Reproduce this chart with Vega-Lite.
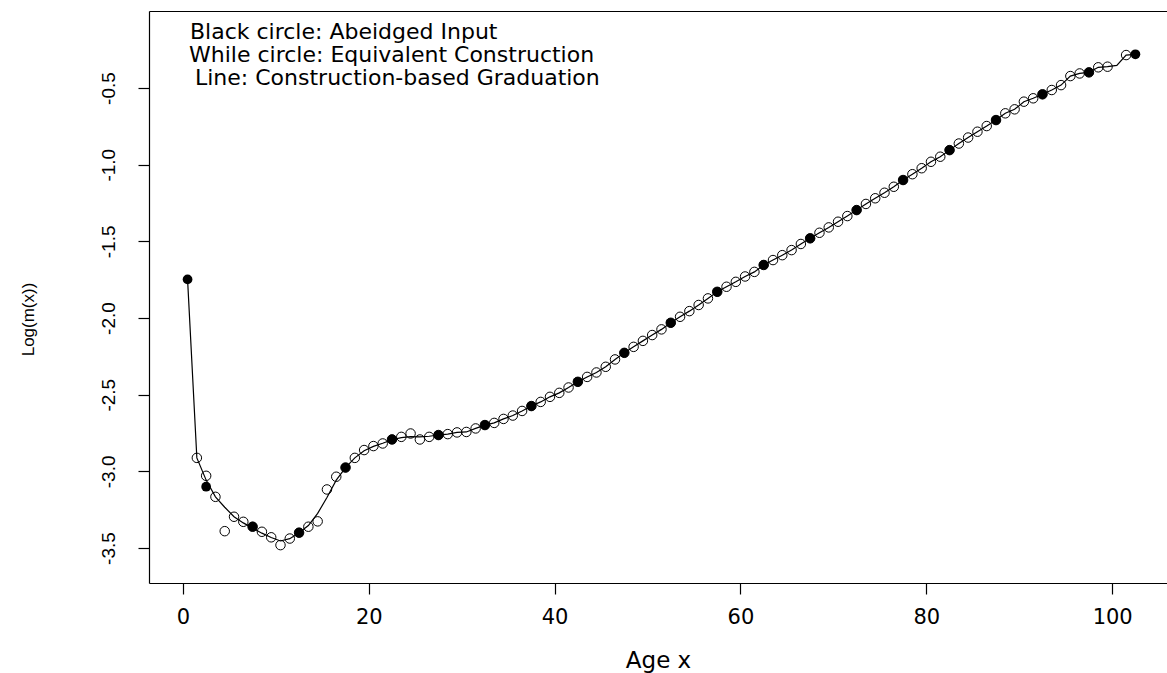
{
  "$schema": "https://vega.github.io/schema/vega-lite/v6.json",
  "width": 1018,
  "height": 572,
  "autosize": {"type": "none"},
  "padding": {"left": 149, "top": 11, "right": 0, "bottom": 90},
  "background": "white",
  "config": {
    "view": {"stroke": null},
    "axis": {"grid": false, "domainColor": "black", "tickColor": "black", "labelColor": "black", "titleColor": "black", "titleFontWeight": "normal", "domainWidth": 1.2, "tickWidth": 1.2}
  },
  "datasets": {
    "grad": [
      {"age": 0.5, "value": -1.748}, {"age": 1.5, "value": -2.912}, {"age": 2.5, "value": -3.057}, {"age": 3.5, "value": -3.166},
      {"age": 4.5, "value": -3.234}, {"age": 5.5, "value": -3.296}, {"age": 6.5, "value": -3.336}, {"age": 7.5, "value": -3.37},
      {"age": 8.5, "value": -3.403}, {"age": 9.5, "value": -3.431}, {"age": 10.5, "value": -3.454}, {"age": 11.5, "value": -3.439},
      {"age": 12.5, "value": -3.4}, {"age": 13.5, "value": -3.353}, {"age": 14.5, "value": -3.274}, {"age": 15.5, "value": -3.17},
      {"age": 16.5, "value": -3.057}, {"age": 17.5, "value": -2.975}, {"age": 18.5, "value": -2.912}, {"age": 19.5, "value": -2.866},
      {"age": 20.5, "value": -2.837}, {"age": 21.5, "value": -2.817}, {"age": 22.5, "value": -2.794}, {"age": 23.5, "value": -2.78},
      {"age": 24.5, "value": -2.773}, {"age": 25.5, "value": -2.775}, {"age": 26.5, "value": -2.771}, {"age": 27.5, "value": -2.763},
      {"age": 28.5, "value": -2.757}, {"age": 29.5, "value": -2.746}, {"age": 30.5, "value": -2.743}, {"age": 31.5, "value": -2.72},
      {"age": 32.5, "value": -2.698}, {"age": 33.5, "value": -2.684}, {"age": 34.5, "value": -2.658}, {"age": 35.5, "value": -2.636},
      {"age": 36.5, "value": -2.606}, {"age": 37.5, "value": -2.574}, {"age": 38.5, "value": -2.547}, {"age": 39.5, "value": -2.514},
      {"age": 40.5, "value": -2.488}, {"age": 41.5, "value": -2.453}, {"age": 42.5, "value": -2.416}, {"age": 43.5, "value": -2.384},
      {"age": 44.5, "value": -2.355}, {"age": 45.5, "value": -2.318}, {"age": 46.5, "value": -2.27}, {"age": 47.5, "value": -2.227},
      {"age": 48.5, "value": -2.188}, {"age": 49.5, "value": -2.149}, {"age": 50.5, "value": -2.111}, {"age": 51.5, "value": -2.074},
      {"age": 52.5, "value": -2.031}, {"age": 53.5, "value": -1.992}, {"age": 54.5, "value": -1.955}, {"age": 55.5, "value": -1.915},
      {"age": 56.5, "value": -1.872}, {"age": 57.5, "value": -1.829}, {"age": 58.5, "value": -1.796}, {"age": 59.5, "value": -1.764},
      {"age": 60.5, "value": -1.729}, {"age": 61.5, "value": -1.699}, {"age": 62.5, "value": -1.654}, {"age": 63.5, "value": -1.622},
      {"age": 64.5, "value": -1.59}, {"age": 65.5, "value": -1.557}, {"age": 66.5, "value": -1.517}, {"age": 67.5, "value": -1.48},
      {"age": 68.5, "value": -1.444}, {"age": 69.5, "value": -1.409}, {"age": 70.5, "value": -1.372}, {"age": 71.5, "value": -1.335},
      {"age": 72.5, "value": -1.296}, {"age": 73.5, "value": -1.256}, {"age": 74.5, "value": -1.219}, {"age": 75.5, "value": -1.183},
      {"age": 76.5, "value": -1.144}, {"age": 77.5, "value": -1.1}, {"age": 78.5, "value": -1.062}, {"age": 79.5, "value": -1.023},
      {"age": 80.5, "value": -0.981}, {"age": 81.5, "value": -0.948}, {"age": 82.5, "value": -0.905}, {"age": 83.5, "value": -0.862},
      {"age": 84.5, "value": -0.823}, {"age": 85.5, "value": -0.785}, {"age": 86.5, "value": -0.748}, {"age": 87.5, "value": -0.709},
      {"age": 88.5, "value": -0.665}, {"age": 89.5, "value": -0.639}, {"age": 90.5, "value": -0.589}, {"age": 91.5, "value": -0.567},
      {"age": 92.5, "value": -0.541}, {"age": 93.5, "value": -0.513}, {"age": 94.5, "value": -0.481}, {"age": 95.5, "value": -0.422},
      {"age": 96.5, "value": -0.405}, {"age": 97.5, "value": -0.398}, {"age": 98.5, "value": -0.365}, {"age": 99.5, "value": -0.361},
      {"age": 100.5, "value": -0.352}, {"age": 101.5, "value": -0.285}, {"age": 102.5, "value": -0.28}
    ],
    "construction": [
      {"age": 1.5, "value": -2.912}, {"age": 2.5, "value": -3.029}, {"age": 3.5, "value": -3.166}, {"age": 4.5, "value": -3.39},
      {"age": 5.5, "value": -3.296}, {"age": 6.5, "value": -3.329}, {"age": 7.5, "value": -3.361}, {"age": 8.5, "value": -3.394},
      {"age": 9.5, "value": -3.43}, {"age": 10.5, "value": -3.481}, {"age": 11.5, "value": -3.438}, {"age": 12.5, "value": -3.4},
      {"age": 13.5, "value": -3.361}, {"age": 14.5, "value": -3.326}, {"age": 15.5, "value": -3.118}, {"age": 16.5, "value": -3.035},
      {"age": 17.5, "value": -2.975}, {"age": 18.5, "value": -2.912}, {"age": 19.5, "value": -2.861}, {"age": 20.5, "value": -2.835},
      {"age": 21.5, "value": -2.818}, {"age": 22.5, "value": -2.792}, {"age": 23.5, "value": -2.775}, {"age": 24.5, "value": -2.753},
      {"age": 25.5, "value": -2.792}, {"age": 26.5, "value": -2.775}, {"age": 27.5, "value": -2.763}, {"age": 28.5, "value": -2.757},
      {"age": 29.5, "value": -2.746}, {"age": 30.5, "value": -2.743}, {"age": 31.5, "value": -2.72}, {"age": 32.5, "value": -2.698},
      {"age": 33.5, "value": -2.684}, {"age": 34.5, "value": -2.658}, {"age": 35.5, "value": -2.636}, {"age": 36.5, "value": -2.606},
      {"age": 37.5, "value": -2.574}, {"age": 38.5, "value": -2.547}, {"age": 39.5, "value": -2.514}, {"age": 40.5, "value": -2.488},
      {"age": 41.5, "value": -2.453}, {"age": 42.5, "value": -2.416}, {"age": 43.5, "value": -2.384}, {"age": 44.5, "value": -2.355},
      {"age": 45.5, "value": -2.318}, {"age": 46.5, "value": -2.27}, {"age": 47.5, "value": -2.227}, {"age": 48.5, "value": -2.188},
      {"age": 49.5, "value": -2.149}, {"age": 50.5, "value": -2.111}, {"age": 51.5, "value": -2.074}, {"age": 52.5, "value": -2.031},
      {"age": 53.5, "value": -1.992}, {"age": 54.5, "value": -1.955}, {"age": 55.5, "value": -1.915}, {"age": 56.5, "value": -1.872},
      {"age": 57.5, "value": -1.829}, {"age": 58.5, "value": -1.796}, {"age": 59.5, "value": -1.764}, {"age": 60.5, "value": -1.729},
      {"age": 61.5, "value": -1.699}, {"age": 62.5, "value": -1.654}, {"age": 63.5, "value": -1.622}, {"age": 64.5, "value": -1.59},
      {"age": 65.5, "value": -1.557}, {"age": 66.5, "value": -1.517}, {"age": 67.5, "value": -1.48}, {"age": 68.5, "value": -1.444},
      {"age": 69.5, "value": -1.409}, {"age": 70.5, "value": -1.372}, {"age": 71.5, "value": -1.335}, {"age": 72.5, "value": -1.296},
      {"age": 73.5, "value": -1.256}, {"age": 74.5, "value": -1.219}, {"age": 75.5, "value": -1.183}, {"age": 76.5, "value": -1.144},
      {"age": 77.5, "value": -1.1}, {"age": 78.5, "value": -1.062}, {"age": 79.5, "value": -1.023}, {"age": 80.5, "value": -0.981},
      {"age": 81.5, "value": -0.948}, {"age": 82.5, "value": -0.905}, {"age": 83.5, "value": -0.862}, {"age": 84.5, "value": -0.823},
      {"age": 85.5, "value": -0.785}, {"age": 86.5, "value": -0.748}, {"age": 87.5, "value": -0.709}, {"age": 88.5, "value": -0.665},
      {"age": 89.5, "value": -0.639}, {"age": 90.5, "value": -0.589}, {"age": 91.5, "value": -0.567}, {"age": 92.5, "value": -0.541},
      {"age": 93.5, "value": -0.513}, {"age": 94.5, "value": -0.481}, {"age": 95.5, "value": -0.422}, {"age": 96.5, "value": -0.405},
      {"age": 97.5, "value": -0.398}, {"age": 98.5, "value": -0.365}, {"age": 99.5, "value": -0.361}, {"age": 101.5, "value": -0.285}
    ],
    "input": [
      {"age": 0.5, "value": -1.748}, {"age": 2.5, "value": -3.1}, {"age": 7.5, "value": -3.361}, {"age": 12.5, "value": -3.4},
      {"age": 17.5, "value": -2.975}, {"age": 22.5, "value": -2.792}, {"age": 27.5, "value": -2.763}, {"age": 32.5, "value": -2.698},
      {"age": 37.5, "value": -2.574}, {"age": 42.5, "value": -2.416}, {"age": 47.5, "value": -2.227}, {"age": 52.5, "value": -2.031},
      {"age": 57.5, "value": -1.829}, {"age": 62.5, "value": -1.654}, {"age": 67.5, "value": -1.48}, {"age": 72.5, "value": -1.296},
      {"age": 77.5, "value": -1.1}, {"age": 82.5, "value": -0.905}, {"age": 87.5, "value": -0.709}, {"age": 92.5, "value": -0.541},
      {"age": 97.5, "value": -0.398}, {"age": 102.5, "value": -0.28}
    ],
    "notes": [
      {"x": 0.76, "y": -0.135, "label": "Black circle: Abeidged Input"},
      {"x": 0.66, "y": -0.285, "label": "While circle: Equivalent Construction"},
      {"x": 1.3, "y": -0.435, "label": "Line: Construction-based Graduation"}
    ]
  },
  "resolve": {"axis": {"x": "independent"}},
  "layer": [
    {
      "data": {"name": "grad"},
      "mark": {"type": "line", "color": "black", "strokeWidth": 1.2},
      "encoding": {
        "x": {"field": "age", "type": "quantitative", "scale": {"domain": [-3.65, 105.9], "nice": false, "zero": false},
          "axis": {"orient": "bottom", "values": [0, 20, 40, 60, 80, 100], "tickSize": 11, "labelPadding": 12, "labelFont": "DejaVu Sans", "labelFontSize": 21, "title": "Age x", "titleFont": "DejaVu Sans", "titleFontSize": 23, "titlePadding": 22, "labelFlush": false}},
        "y": {"field": "value", "type": "quantitative", "scale": {"domain": [-3.728, 0.0023], "nice": false, "zero": false},
          "axis": {"orient": "left", "values": [-3.5, -3, -2.5, -2, -1.5, -1, -0.5], "format": ".1f", "labelExpr": "replace(datum.label, '\u2212', '-')", "tickSize": 11, "labelAngle": -90, "labelAlign": "center", "labelBaseline": "bottom", "labelPadding": 20, "labelFont": "Liberation Sans", "labelFontSize": 19, "title": "Log(m(x))", "titleFont": "Liberation Sans", "titleFontSize": 17, "titleAngle": -90, "titleAlign": "center", "titleBaseline": "middle", "titleX": -121, "titleY": 308, "labelFlush": false}}
      }
    },
    {
      "data": {"name": "construction"},
      "mark": {"type": "point", "shape": "circle", "filled": false, "stroke": "black", "strokeWidth": 1, "size": 90, "opacity": 1},
      "encoding": {
        "x": {"field": "age", "type": "quantitative", "axis": {"orient": "top", "labels": false, "ticks": false, "title": null, "domain": true}},
        "y": {"field": "value", "type": "quantitative"}
      }
    },
    {
      "data": {"name": "input"},
      "mark": {"type": "point", "shape": "circle", "filled": true, "color": "black", "size": 95, "opacity": 1},
      "encoding": {
        "x": {"field": "age", "type": "quantitative", "axis": null},
        "y": {"field": "value", "type": "quantitative"}
      }
    },
    {
      "data": {"name": "notes"},
      "mark": {"type": "text", "align": "left", "baseline": "middle", "font": "DejaVu Sans", "fontSize": 22, "color": "black"},
      "encoding": {
        "x": {"field": "x", "type": "quantitative", "axis": null},
        "y": {"field": "y", "type": "quantitative"},
        "text": {"field": "label"}
      }
    }
  ]
}
